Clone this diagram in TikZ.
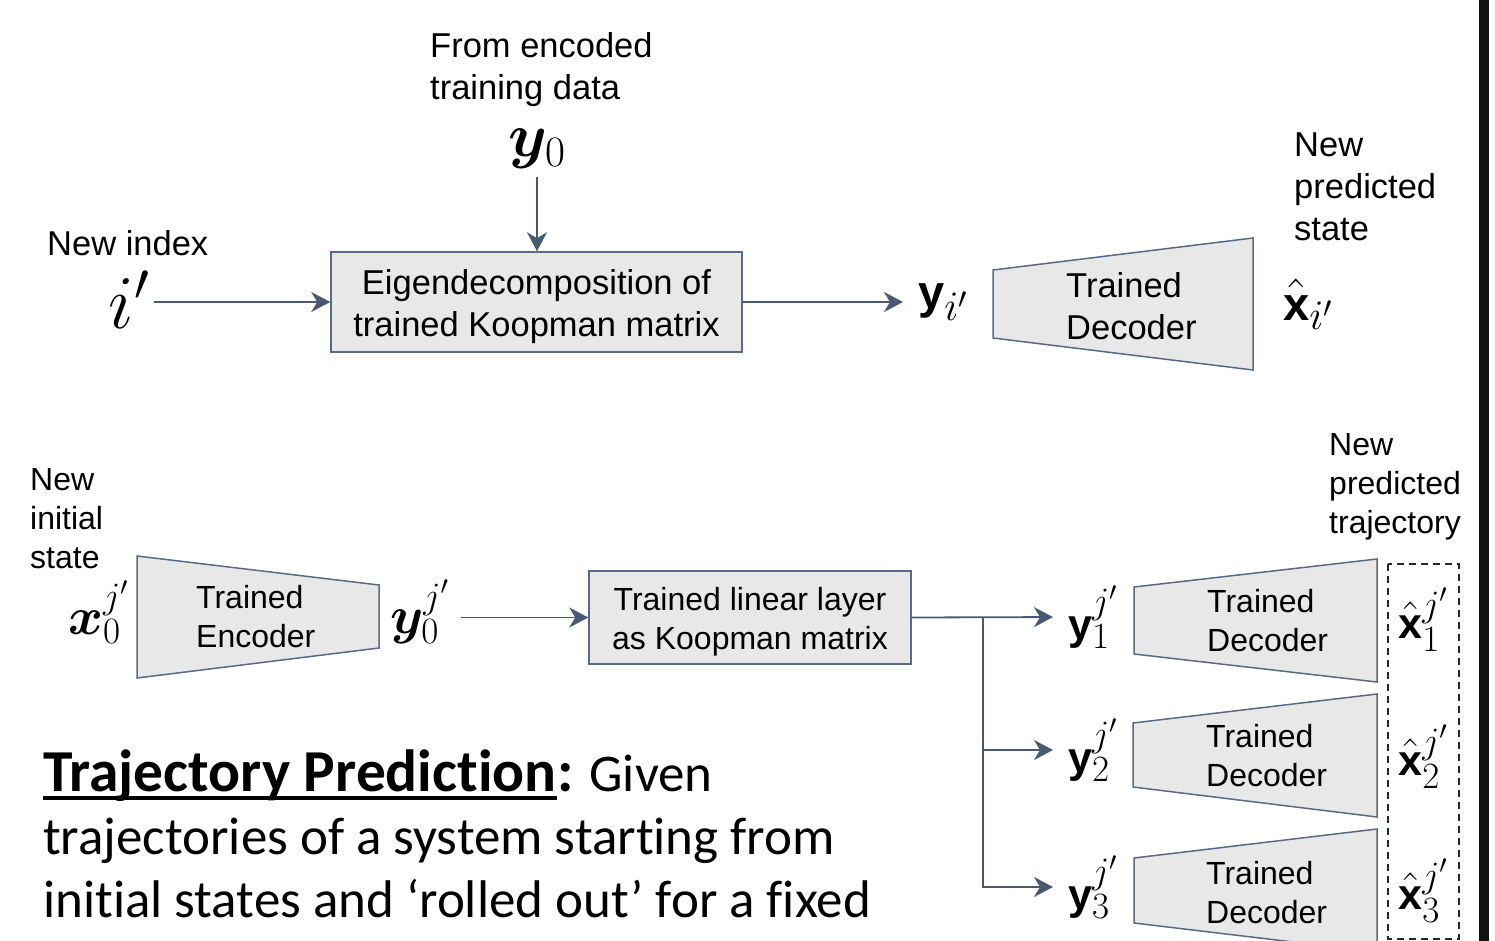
\RequirePackage{fix-cm}
\documentclass[tikz,border=0pt]{standalone}
\usepackage{amsmath}
\usepackage{bm}
\usepackage{fontspec}
\newfontfamily\arial{Liberation Sans}
\newfontfamily\calibri[Ligatures={NoCommon,NoContextual}]{Carlito}
\usetikzlibrary{arrows.meta}
\definecolor{boxfill}{HTML}{E8E8E8}
\definecolor{edge}{HTML}{5A6A84}
\definecolor{wire}{HTML}{4A5972}
\definecolor{barblack}{HTML}{111111}
% bold sans letter at a fixed size inside math
\newcommand{\sfb}[2]{\text{\fontsize{#1}{#1}\selectfont\arial\bfseries #2}}
\tikzset{
  toplbl/.style={font=\arial\fontsize{34.5}{42}\selectfont, inner sep=0pt},
  botlbl/.style={font=\arial\fontsize{32}{39}\selectfont, inner sep=0pt},
  keybox/.style={draw=edge, fill=boxfill, line width=1.5pt},
  trap/.style={draw=edge, fill=boxfill, line width=1.5pt},
  wirearrow/.style={draw=wire, line width=1.8pt, -{Stealth[length=19pt,width=20pt,inset=6pt]}},
  mth/.style={inner sep=0pt},
  topmath/.style={mth, font=\fontsize{60}{64}\selectfont},
  botmath/.style={mth, font=\fontsize{53}{57}\selectfont},
  para/.style={font=\calibri\fontsize{53}{63}\selectfont, inner sep=0pt},
  parabold/.style={font=\calibri\bfseries\fontsize{59.5}{63}\selectfont, inner sep=0pt},
  dashframe/.style={draw=black!85, line width=1.5pt, dash pattern=on 7pt off 5pt},
}
\begin{document}
\begin{tikzpicture}[x=1pt,y=-1pt]
\useasboundingbox (0,0) rectangle (1495,941);
\fill[white] (0,0) rectangle (1495,941);
\fill[barblack] (1479,0) rectangle (1489,941);

% ---- index-based prediction ----
\node[toplbl, anchor=north west, align=left] (src) at (430,32) {From encoded\\training data};
\node[mth, font=\fontsize{62}{66}\selectfont] (y0) at (537,149) {$\bm{y}_0$};
\node[keybox, minimum width=411pt, minimum height=100pt] (eig) at (536.5,302) {};
\node[toplbl, align=center] (eigtext) at ([yshift=-5pt]eig.center)
  {Eigendecomposition of\\trained Koopman matrix};
\node[toplbl, anchor=north west] (newidx) at (47,230) {New index};
\node[mth, font=\fontsize{76}{80}\selectfont] (ip) at (129,300) {$i'$};
\draw[wirearrow, shorten <=5pt] (ip.east |- eig.west) -- (eig.west);
\draw[wirearrow, shorten <=8pt] (y0.south) -- (y0.south |- eig.north);

\node[topmath, anchor=west] (yi) at (918,302) {$\sfb{47}{y}_{i'}$};
\draw[wirearrow, shorten >=15pt] (eig.east) -- (yi.west);

\draw[trap] (993,270) -- (1253,238) -- (1253,370) -- (993,338) -- cycle;
\node[toplbl, align=left, anchor=west] (dectop) at (1066,306) {Trained\\Decoder};
\node[topmath, anchor=west] (xi) at (1283,304) {$\hat{\sfb{47}{x}}_{i'}$};
\node[toplbl, anchor=north west, align=left] (newstate) at (1294,133) {New\\predicted\\state};

% ---- trajectory roll-out ----
\node[botlbl, anchor=north west, align=left] (newinit) at (30,468) {New\\initial\\state};
\node[botmath, anchor=west] (x0) at (68,612) {$\bm{x}_0^{j'}$};
\draw[trap] (137,556) -- (379,585) -- (379,648) -- (137,678) -- cycle;
\node[botlbl, align=left, anchor=west] (enc) at (196,617) {Trained\\Encoder};
\node[botmath, anchor=west] (y0j) at (390,612) {$\bm{y}_0^{j'}$};

\node[keybox, minimum width=322pt, minimum height=93pt] (lin) at (750,617.5) {};
\node[botlbl, align=center] (lintext) at ([yshift=-4pt]lin.center)
  {Trained linear layer\\as Koopman matrix};
\draw[wirearrow, shorten <=12pt] (y0j.east |- lin.west) -- (lin.west);

\coordinate (br) at (983,617);
\node[botmath, anchor=west] (y1) at (1068,617) {$\sfb{43}{y}_1^{j'}$};
\node[botmath, anchor=west] (y2) at (1068,750) {$\sfb{43}{y}_2^{j'}$};
\node[botmath, anchor=west] (y3) at (1068,887) {$\sfb{43}{y}_3^{j'}$};
\draw[wirearrow, shorten >=15pt] (lin.east) -- (y1.west);
\draw[wirearrow, shorten >=15pt] (br) |- (y2.west);
\draw[wirearrow, shorten >=15pt] (br) |- (y3.west);

\draw[trap] (1134,587) -- (1377,559) -- (1377,682) -- (1134,654) -- cycle;
\draw[trap] (1133,723) -- (1377,694) -- (1377,817) -- (1133,787) -- cycle;
\draw[trap] (1134,858) -- (1377,829) -- (1377,952) -- (1134,923) -- cycle;
\node[botlbl, align=left, anchor=west] (dec1) at (1207,621) {Trained\\Decoder};
\node[botlbl, align=left, anchor=west] (dec2) at (1206,756) {Trained\\Decoder};
\node[botlbl, align=left, anchor=west] (dec3) at (1206,893) {Trained\\Decoder};

\draw[dashframe] (1388,564) rectangle (1459,939);
\node[botmath] (x1) at (1423,620) {$\hat{\sfb{43}{x}}_1^{j'}$};
\node[botmath] (x2) at (1423,757) {$\hat{\sfb{43}{x}}_2^{j'}$};
\node[botmath] (x3) at (1423,891) {$\hat{\sfb{43}{x}}_3^{j'}$};
\node[botlbl, anchor=north west, align=left] (newtraj) at (1329,433) {New\\predicted\\trajectory};

% ---- caption ----
\node[parabold, anchor=base west] (tp) at (43,791) {Trajectory Prediction};
\draw[line width=3.5pt] ([yshift=-7pt]tp.base west) -- ([yshift=-7pt]tp.base east);
\node[para, anchor=base west] (tg) at (tp.base east) {{\bfseries\fontsize{59.5}{63}\selectfont:} Given};
\node[para, anchor=base west] (l2) at (43,854) {trajectories of a system starting from};
\node[para, anchor=base west] (l3) at (43,917) {initial states and ‘rolled out’ for a fixed};
\end{tikzpicture}
\end{document}
